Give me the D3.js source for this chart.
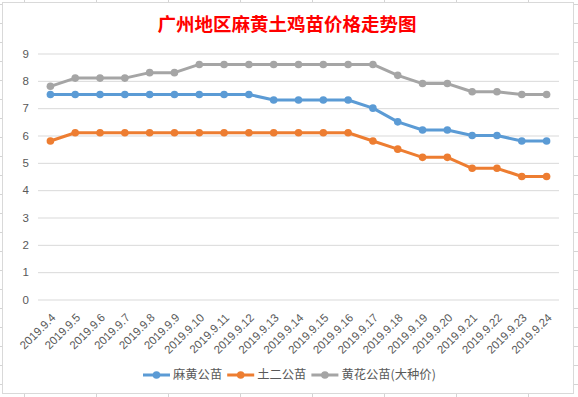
<!DOCTYPE html>
<html>
<head>
<meta charset="utf-8">
<script src="https://cdn.jsdelivr.net/npm/d3@7"></script>
<style>
  body { margin: 0; background: #fff; }
  svg { display: block; }
</style>
</head>
<body>
<script>
//chart data
var dates = ["2019.9.4", "2019.9.5", "2019.9.6", "2019.9.7", "2019.9.8", "2019.9.9", "2019.9.10",
    "2019.9.11", "2019.9.12", "2019.9.13", "2019.9.14", "2019.9.15", "2019.9.16", "2019.9.17",
    "2019.9.18", "2019.9.19", "2019.9.20", "2019.9.21", "2019.9.22", "2019.9.23", "2019.9.24"];
var mahuang = [7.5, 7.5, 7.5, 7.5, 7.5, 7.5, 7.5, 7.5, 7.5, 7.3, 7.3, 7.3, 7.3, 7.0, 6.5, 6.2, 6.2, 6.0, 6.0, 5.8, 5.8];
var tuer = [5.8, 6.1, 6.1, 6.1, 6.1, 6.1, 6.1, 6.1, 6.1, 6.1, 6.1, 6.1, 6.1, 5.8, 5.5, 5.2, 5.2, 4.8, 4.8, 4.5, 4.5];
var huanghua = [7.8, 8.1, 8.1, 8.1, 8.3, 8.3, 8.6, 8.6, 8.6, 8.6, 8.6, 8.6, 8.6, 8.6, 8.2, 7.9, 7.9, 7.6, 7.6, 7.5, 7.5];
var seriesNames = ["麻黄公苗", "土二公苗", "黄花公苗(大种价)"];
var yTicks = [0, 1, 2, 3, 4, 5, 6, 7, 8, 9];
var titleText = "广州地区麻黄土鸡苗价格走势图";

window.onload = drawChart();

function drawChart(){
    var width = 578,
        height = 397;
    var colors = ["#5B9BD5", "#ED7D31", "#A5A5A5"];
    var series = [mahuang, tuer, huanghua];

    var svg = d3.select("body")
        .append("svg")
        .attr("width", width)
        .attr("height", height);

    //spreadsheet cells behind the chart
    var cells = svg.append("g").attr("stroke", "#d4d4d4").attr("stroke-width", 1);
    d3.range(24, width, 72).forEach(function(x){
        cells.append("line").attr("x1", x + 0.5).attr("x2", x + 0.5).attr("y1", 0).attr("y2", height);
    });
    d3.range(4, height, 19).forEach(function(y){
        cells.append("line").attr("x1", 0).attr("x2", width).attr("y1", y + 0.5).attr("y2", y + 0.5);
    });

    //chart area
    svg.append("rect")
        .attr("x", 2.5).attr("y", 2.5)
        .attr("width", 571).attr("height", 391)
        .attr("fill", "#fff")
        .attr("stroke", "#d9d9d9");

    //title
    svg.append("text")
        .attr("x", 287)
        .attr("y", 31)
        .attr("text-anchor", "middle")
        .attr("font-family", "'Noto Sans CJK SC', sans-serif")
        .attr("font-weight", "bold")
        .attr("font-size", "18.5px")
        .attr("fill", "#ff0000")
        .text(titleText);

    var x = d3.scaleBand()
        .domain(dates)
        .range([38, 559]);

    var y = d3.scaleLinear()
        .domain([0, 9])
        .range([299.5, 53.5]);

    //gridlines and y labels
    var yAxis = svg.append("g")
        .attr("transform", "translate(38,0)")
        .call(d3.axisLeft(y).tickValues(yTicks).tickSize(-521).tickFormat(d3.format("d")));
    yAxis.select(".domain").remove();
    yAxis.selectAll(".tick line").attr("stroke", "#d9d9d9");
    yAxis.selectAll(".tick text")
        .attr("x", -9)
        .attr("fill", "#595959")
        .attr("font-family", "'Liberation Sans', sans-serif")
        .attr("font-size", "11.5px");

    //x labels
    var xAxis = svg.append("g")
        .attr("transform", "translate(0,299.5)")
        .call(d3.axisBottom(x).tickSize(0));
    xAxis.select(".domain").remove();
    xAxis.selectAll(".tick text")
        .attr("fill", "#595959")
        .attr("font-family", "'Liberation Sans', sans-serif")
        .attr("font-size", "11.5px")
        .attr("text-anchor", "end")
        .attr("x", 0).attr("y", 0).attr("dy", "0.35em")
        .attr("transform", "translate(3,16) rotate(-45)");

    var line = d3.line()
        .x(function(d, i){ return x(dates[i]) + x.bandwidth() / 2; })
        .y(function(d){ return y(d); });

    series.forEach(function(s, k){
        svg.append("path")
            .datum(s)
            .attr("fill", "none")
            .attr("stroke", colors[k])
            .attr("stroke-width", 3)
            .attr("stroke-linejoin", "round")
            .attr("d", line);
        svg.selectAll(".dot" + k)
            .data(s)
            .enter()
            .append("circle")
            .attr("class", "dot" + k)
            .attr("cx", function(d, i){ return x(dates[i]) + x.bandwidth() / 2; })
            .attr("cy", function(d){ return y(d); })
            .attr("r", 3.8)
            .attr("fill", colors[k]);
    });

    //legend
    var legend = svg.append("g");
    var lx = 143, ly = 375;
    seriesNames.forEach(function(name, k){
        legend.append("line")
            .attr("x1", lx).attr("x2", lx + 27)
            .attr("y1", ly).attr("y2", ly)
            .attr("stroke", colors[k])
            .attr("stroke-width", 3);
        legend.append("circle")
            .attr("cx", lx + 13.5).attr("cy", ly)
            .attr("r", 3.8)
            .attr("fill", colors[k]);
        var t = legend.append("text")
            .attr("x", lx + 30)
            .attr("y", ly)
            .attr("dy", "0.36em")
            .attr("fill", "#595959")
            .attr("font-family", "'Noto Sans CJK SC', sans-serif")
            .attr("font-size", "12.3px")
            .text(name);
        lx = lx + 30 + t.node().getComputedTextLength() + 5;
    });
};
</script>
</body>
</html>
